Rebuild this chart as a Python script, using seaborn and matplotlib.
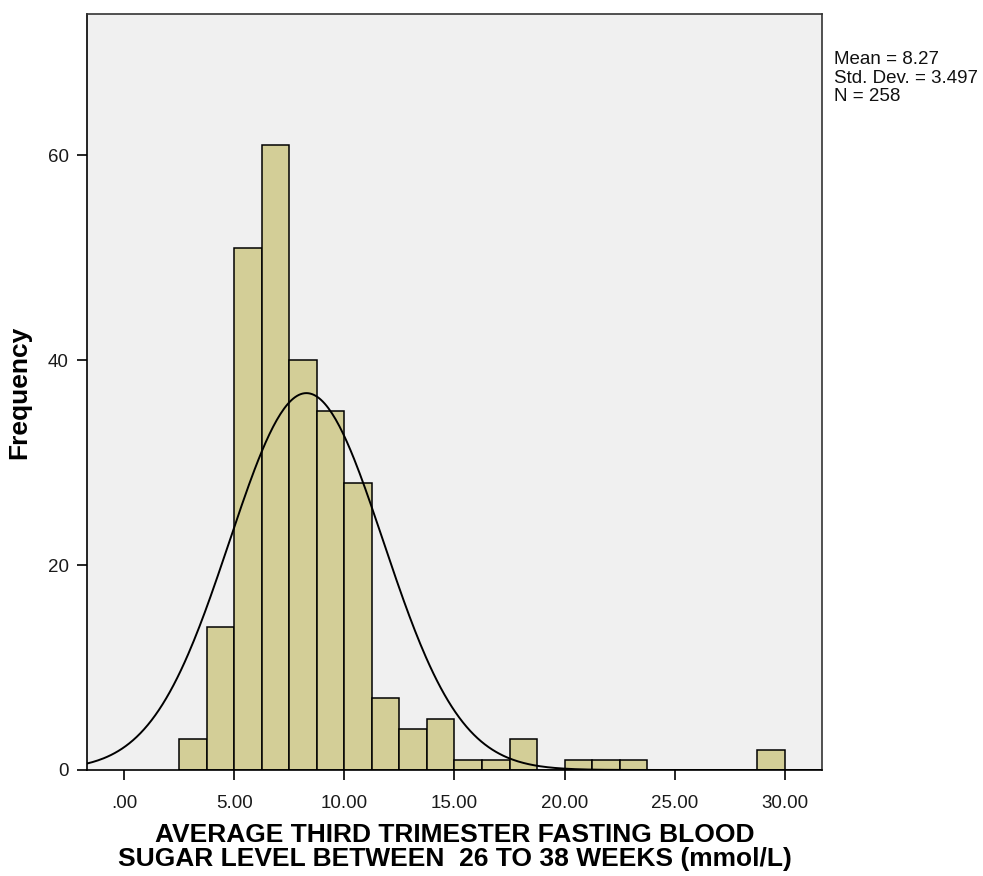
import numpy as np
import pandas as pd
import matplotlib
matplotlib.use("Agg")
import matplotlib.pyplot as plt
import seaborn as sns

# Data (bin width 1.25 starting at 2.5)
bin_left = [2.5, 3.75, 5.0, 6.25, 7.5, 8.75, 10.0, 11.25, 12.5, 13.75, 15.0, 16.25,
            17.5, 18.75, 20.0, 21.25, 22.5, 23.75, 25.0, 26.25, 27.5, 28.75]
counts = [3, 14, 51, 61, 40, 35, 28, 7, 4, 5, 1, 1,
          3, 0, 1, 1, 1, 0, 0, 0, 0, 2]
bin_width = 1.25
mean_val = 8.27
sd_val = 3.497
n_val = 258
x_ticks = [0, 5, 10, 15, 20, 25, 30]
x_ticklabels = [".00", "5.00", "10.00", "15.00", "20.00", "25.00", "30.00"]
y_ticks = [0, 20, 40, 60]

sns.set_theme(style="white")
plt.rcParams['font.family'] = ['Liberation Sans', 'DejaVu Sans']
plt.rcParams['text.color'] = '#111111'
plt.rcParams['axes.labelcolor'] = 'black'
plt.rcParams['xtick.color'] = 'black'
plt.rcParams['ytick.color'] = 'black'
plt.rcParams['xtick.labelcolor'] = '#1a1a1a'
plt.rcParams['ytick.labelcolor'] = '#1a1a1a'

fig = plt.figure(figsize=(9.83, 8.76), dpi=100)
ax = fig.add_axes([87/983, 1-770/876, (822-87)/983, (770-14)/876])
ax.set_facecolor("#F0F0F0")

df = pd.DataFrame({"center": np.array(bin_left) + bin_width/2, "count": counts})
edges = list(bin_left) + [bin_left[-1] + bin_width]
sns.histplot(data=df, x="center", weights="count", bins=edges, ax=ax,
             color="#D3CE97", edgecolor="black", linewidth=1.1, alpha=1.0)

xlim = (-1.7, 31.7)
xs = np.linspace(xlim[0], xlim[1], 400)
ys = n_val * bin_width / (sd_val * np.sqrt(2*np.pi)) * np.exp(-0.5*((xs-mean_val)/sd_val)**2)
sns.lineplot(x=xs, y=ys, ax=ax, color="black", linewidth=1.4)

ax.set_xlim(*xlim)
ax.set_ylim(0, 73.8)
ax.set_xticks(x_ticks)
ax.set_xticklabels(x_ticklabels, fontsize=13.5)
ax.set_yticks(y_ticks)
ax.set_yticklabels([str(v) for v in y_ticks], fontsize=13.5)
ax.tick_params(axis="both", which="both", direction="out", length=7, width=1.2,
               bottom=True, left=True, pad=6)
ax.tick_params(axis="x", pad=11)
for s in ax.spines.values():
    s.set_color("#333333")
    s.set_linewidth(1.2)
ax.spines["bottom"].set_color("black")
ax.spines["left"].set_color("black")

ax.set_xlabel("AVERAGE THIRD TRIMESTER FASTING BLOOD\nSUGAR LEVEL BETWEEN  26 TO 38 WEEKS (mmol/L)",
              fontsize=19, fontweight="bold", labelpad=8, linespacing=1.0)
ax.set_ylabel("Frequency", fontsize=19, fontweight="bold", labelpad=12)

fig.text(834/983, 1-51/876, f"Mean = {mean_val}\nStd. Dev. = {sd_val}\nN = {n_val}",
         fontsize=13.5, va="top", ha="left", linespacing=1.12)

fig.savefig("out.png", dpi=100)
